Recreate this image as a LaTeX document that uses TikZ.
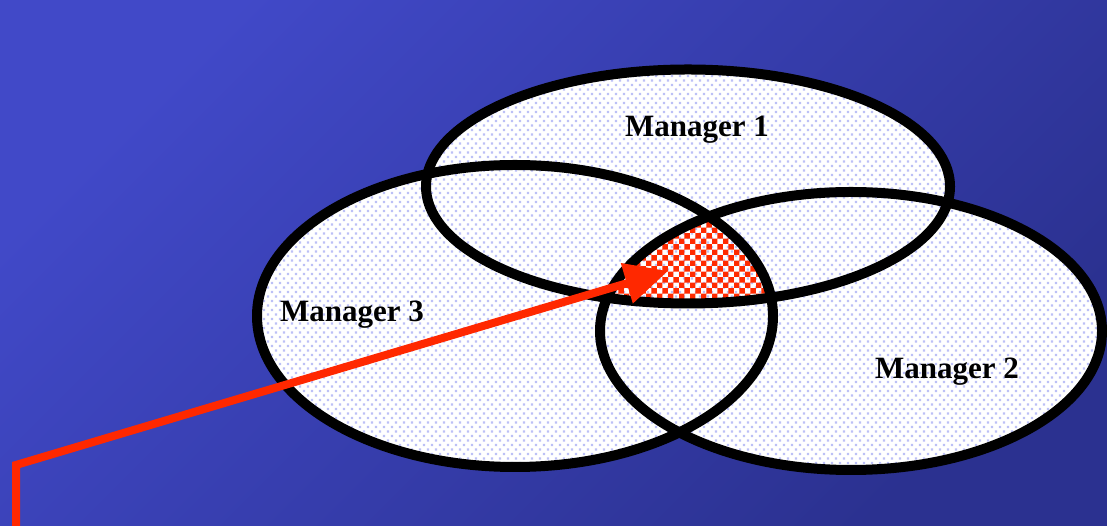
\documentclass[tikz,border=0pt]{standalone}
\usepackage{fontspec}
\setmainfont{Liberation Serif}
\usetikzlibrary{arrows.meta,patterns}

\definecolor{bgtop}{HTML}{4149C8}
\definecolor{bgbot}{HTML}{2B3190}
\definecolor{dotc}{HTML}{BCC0F6}
\definecolor{chk}{HTML}{FF2A00}
\definecolor{pointerred}{HTML}{FF2800}

% sparse staggered dots for the ellipse interiors
\pgfdeclarepatternformonly{lavdots}{\pgfqpoint{-1.5pt}{-1.5pt}}{\pgfqpoint{9.5pt}{10.5pt}}{\pgfqpoint{8pt}{9pt}}{%
  \pgfpathrectangle{\pgfqpoint{-1.1pt}{-1.1pt}}{\pgfqpoint{2.2pt}{2.2pt}}%
  \pgfpathrectangle{\pgfqpoint{2.9pt}{3.4pt}}{\pgfqpoint{2.2pt}{2.2pt}}%
  \pgfusepath{fill}}

\tikzset{
  ellA/.style={insert path={(688,339.5) ellipse [x radius=262, y radius=117]}},
  ellB/.style={insert path={(851,195) ellipse [x radius=251, y radius=139]}},
  ellC/.style={insert path={(515,210) ellipse [x radius=258, y radius=151]}},
  ring/.style={draw=black, line width=10pt},
  label/.style={font=\fontsize{31}{37}\selectfont\bfseries, text=black, anchor=base, inner sep=0pt},
  pointer/.style={draw=pointerred, line width=8pt, line join=miter,
    -{Triangle[length=43pt, width=40pt]}},
}

\begin{document}
\begin{tikzpicture}[x=1pt,y=1pt]
  \useasboundingbox (0,0) rectangle (1107,526);

  % blue backdrop, lighter towards the upper left
  \shade[shading=axis, top color=bgtop, bottom color=bgbot, shading angle=45]
    (0,0) rectangle (1107,526);

  % ellipse interiors
  \foreach \e in {ellA,ellB,ellC} {
    \fill[white, \e];
    \fill[pattern=lavdots, pattern color=dotc, \e];
  }

  % common part of all three sets
  \begin{scope}
    \path[clip, ellA];
    \path[clip, ellB];
    \path[clip, ellC];
    \fill[pattern=checkerboard, pattern color=chk] (0,0) rectangle (1107,526);
  \end{scope}

  % outlines
  \path[ring, ellA];
  \path[ring, ellB];
  \path[ring, ellC];

  % set labels
  \node[label] (m1) at (697,389) {Manager 1};
  \node[label] (m2) at (947,147) {Manager 2};
  \node[label] (m3) at (352,204) {Manager 3};

  % pointer into the common part
  \coordinate (foot) at (16,0);
  \coordinate (bend) at (16,61);
  \coordinate (tip) at (668,255);
  \draw[pointer] (foot) -- (bend) -- (tip);
\end{tikzpicture}
\end{document}
